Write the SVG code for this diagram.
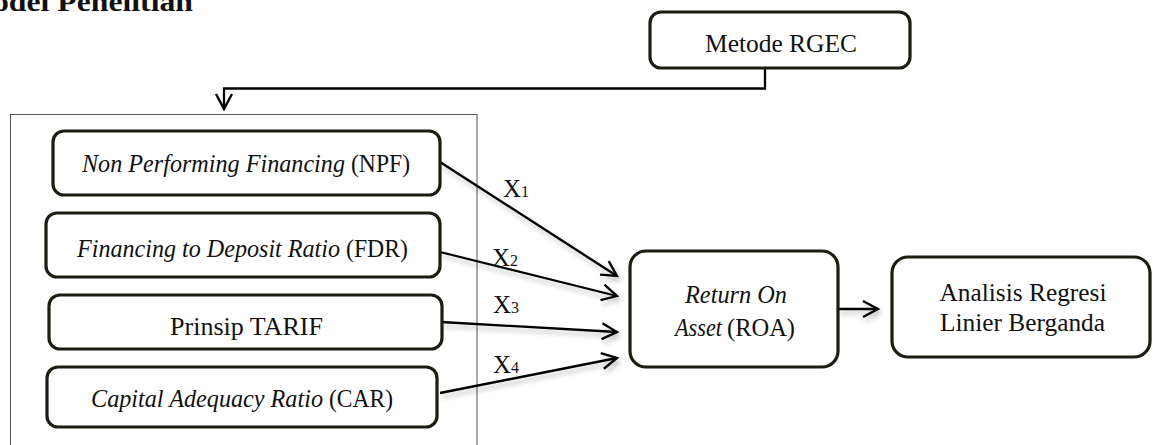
<svg xmlns="http://www.w3.org/2000/svg" width="1153" height="445" viewBox="0 0 1153 445">
<style>
.box{fill:#fff;stroke:#1e1b12;stroke-width:3.2}
.t{font-family:"Liberation Serif","DejaVu Serif",serif;font-size:25px;fill:#111;text-anchor:middle}
.s{font-family:"Liberation Serif","DejaVu Serif",serif;font-size:25px;fill:#111}
.i{font-style:italic}
.con{fill:none;stroke:#000;stroke-width:2.3}
.lbl{font-family:"Liberation Serif","DejaVu Serif",serif;font-size:25px;fill:#111}
.sub{font-size:16px}
.title{font-family:"Liberation Serif","DejaVu Serif",serif;font-weight:bold;font-size:27px;fill:#111}
</style>
<defs>
<marker id="ah" markerWidth="20" markerHeight="20" refX="17" refY="9" orient="auto" markerUnits="userSpaceOnUse">
<path d="M2,1 L17,9 L2,17" fill="none" stroke="#000" stroke-width="2.3"/>
</marker>
<filter id="sh" x="-10%" y="-20%" width="130%" height="160%">
<feDropShadow dx="2" dy="4" stdDeviation="2.5" flood-color="#000" flood-opacity="0.25"/>
</filter>
</defs>
<text class="title" x="-7" y="11" textLength="200" lengthAdjust="spacingAndGlyphs">odel Penelitian</text>
<rect x="10.5" y="114.5" width="466.5" height="340" fill="none" stroke="#555" stroke-width="1"/>
<g id="connectors">
<path class="con" d="M765,68 V88.5 H224 V109" stroke-width="1.8" marker-end="url(#ah)"/>
<g filter="url(#sh)">
<line class="con" x1="440" y1="162" x2="617" y2="276" marker-end="url(#ah)"/>
<line class="con" x1="440" y1="252" x2="617" y2="296" marker-end="url(#ah)"/>
<line class="con" x1="441" y1="322" x2="617" y2="332" marker-end="url(#ah)"/>
<line class="con" x1="440" y1="393" x2="617" y2="358" marker-end="url(#ah)"/>
<line class="con" x1="838" y1="309" x2="878" y2="309" marker-end="url(#ah)"/>
</g>
<text class="lbl" x="503" y="197">X<tspan class="sub">1</tspan></text>
<text class="lbl" x="492" y="266">X<tspan class="sub">2</tspan></text>
<text class="lbl" x="493" y="313">X<tspan class="sub">3</tspan></text>
<text class="lbl" x="493" y="373">X<tspan class="sub">4</tspan></text>
</g>
<g id="rgec">
<rect class="box" x="650" y="12" width="260" height="56" rx="11"/>
<text class="t" x="781" y="52" textLength="152" lengthAdjust="spacingAndGlyphs">Metode RGEC</text>
</g>
<g id="npf">
<rect class="box" x="53" y="131" width="387" height="64" rx="11"/>
<text class="s i" x="82" y="172" textLength="263" lengthAdjust="spacingAndGlyphs">Non Performing Financing</text>
<text class="s" x="351" y="172" textLength="59" lengthAdjust="spacingAndGlyphs">(NPF)</text>
</g>
<g id="fdr">
<rect class="box" x="46" y="213" width="394" height="64" rx="11"/>
<text class="s i" x="77" y="257" textLength="263" lengthAdjust="spacingAndGlyphs">Financing to Deposit Ratio</text>
<text class="s" x="346" y="257" textLength="62" lengthAdjust="spacingAndGlyphs">(FDR)</text>
</g>
<g id="tarif">
<rect class="box" x="49" y="295" width="393" height="54" rx="11"/>
<text class="t" x="246.5" y="335" textLength="153" lengthAdjust="spacingAndGlyphs">Prinsip TARIF</text>
</g>
<g id="car">
<rect class="box" x="47" y="367" width="390" height="60" rx="11"/>
<text class="s i" x="91" y="407" textLength="232" lengthAdjust="spacingAndGlyphs">Capital Adequacy Ratio</text>
<text class="s" x="329" y="407" textLength="64" lengthAdjust="spacingAndGlyphs">(CAR)</text>
</g>
<g id="roa">
<rect class="box" x="630" y="251" width="208" height="116" rx="16"/>
<text class="t i" x="736" y="303" textLength="102" lengthAdjust="spacingAndGlyphs">Return On</text>
<text class="s i" x="675" y="336" textLength="47" lengthAdjust="spacingAndGlyphs">Asset</text>
<text class="s" x="727" y="336" textLength="68" lengthAdjust="spacingAndGlyphs">(ROA)</text>
</g>
<g id="analisis">
<rect class="box" x="892" y="257" width="258" height="100" rx="16"/>
<text class="t" x="1023" y="301" textLength="167" lengthAdjust="spacingAndGlyphs">Analisis Regresi</text>
<text class="t" x="1022.5" y="331" textLength="165" lengthAdjust="spacingAndGlyphs">Linier Berganda</text>
</g>
</svg>
